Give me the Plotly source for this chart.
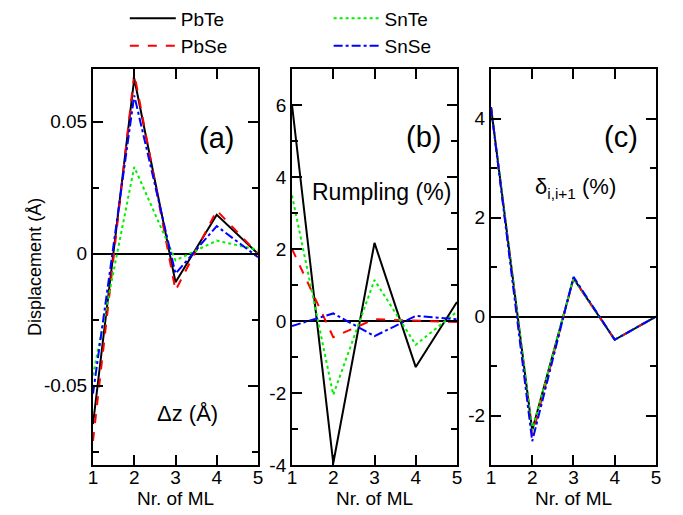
import plotly.graph_objects as go

layers = [1, 2, 3, 4, 5]
names = ["PbTe", "PbSe", "SnTe", "SnSe"]

# (a) displacement dz (Å)
dz_PbTe = [-0.0645, 0.0664, -0.0108, 0.0148, 0.0]
dz_PbSe = [-0.0709, 0.0683, -0.0139, 0.0164, 0.0]
dz_SnTe = [-0.0460, 0.0329, -0.0025, 0.0050, 0.0015]
dz_SnSe = [-0.0530, 0.0600, -0.0075, 0.0105, -0.0013]

# (b) rumpling (%)
rump_PbTe = [6.0, -3.95, 2.17, -1.28, 0.53]
rump_PbSe = [2.0, -0.45, 0.05, 0.02, -0.03]
rump_SnTe = [3.49, -2.05, 1.14, -0.66, 0.26]
rump_SnSe = [-0.14, 0.21, -0.42, 0.14, 0.05]

# (c) delta_{i,i+1} (%)
dl_PbTe = [4.23, -2.30, 0.77, -0.47, 0.0]
dl_PbSe = [4.23, -2.40, 0.77, -0.47, 0.0]
dl_SnTe = [4.23, -2.30, 0.77, -0.47, 0.0]
dl_SnSe = [4.23, -2.52, 0.80, -0.47, 0.0]

panels = [
    [dz_PbTe, dz_PbSe, dz_SnTe, dz_SnSe],
    [rump_PbTe, rump_PbSe, rump_SnTe, rump_SnSe],
    [dl_PbTe, dl_PbSe, dl_SnTe, dl_SnSe],
]

colors = ["black", "#ff0000", "#00f000", "#0000ff"]
dashes = ["solid", "dash", "dot", "dashdot"]
legends = ["legend", "legend", "legend2", "legend2"]

FONT = "Liberation Sans, Arial, Helvetica, sans-serif"

fig = go.Figure()
for p, series in enumerate(panels):
    xa = "x" if p == 0 else f"x{p+1}"
    ya = "y" if p == 0 else f"y{p+1}"
    for i, vals in enumerate(series):
        fig.add_trace(go.Scatter(
            x=layers, y=vals, mode="lines", name=names[i],
            line=dict(color=colors[i], dash=dashes[i], width=2),
            xaxis=xa, yaxis=ya, showlegend=(p == 0), legend=legends[i],
        ))

domains = [[0.0, 0.2931], [0.3535, 0.6465], [0.7069, 1.0]]
yranges = [[-0.08, 0.07], [-4, 7], [-3, 5]]
ytickvals = [[-0.05, 0, 0.05], [-4, -2, 0, 2, 4, 6], [-2, 0, 2, 4]]
yticktext = [["-0.05", "0", "0.05"], ["-4", "-2", "0", "2", "4", "6"], ["-2", "0", "2", "4"]]
yminor = [0.025, 1, 1]

axis_common = dict(
    showline=True, linecolor="black", linewidth=2, mirror="ticks",
    ticks="inside", ticklen=10, tickwidth=2, tickcolor="black",
    showgrid=False, tickfont=dict(family=FONT, size=19, color="black"),
    automargin=True,
)

# page body has an 8px margin, so the figure is shrunk by 8px on each axis
layout = dict(
    width=675, height=507,
    margin=dict(l=85, r=27, t=61, b=50, autoexpand=False),
    paper_bgcolor="white", plot_bgcolor="white",
    font=dict(family=FONT, size=18, color="black"),
)
for p in range(3):
    sx = "xaxis" if p == 0 else f"xaxis{p+1}"
    sy = "yaxis" if p == 0 else f"yaxis{p+1}"
    layout[sx] = dict(
        axis_common, domain=domains[p], range=[1, 5], tickvals=layers,
        anchor="y" if p == 0 else f"y{p+1}", ticklabelstandoff=-6,
        title=dict(text="Nr. of ML", font=dict(family=FONT, size=19), standoff=0),
        zeroline=False,
    )
    layout[sy] = dict(
        axis_common, range=yranges[p], tickvals=ytickvals[p], ticktext=yticktext[p],
        anchor="x" if p == 0 else f"x{p+1}",
        minor=dict(ticks="inside", ticklen=6, tickwidth=2, tickcolor="black", dtick=yminor[p], tick0=0),
        zeroline=True, zerolinecolor="black", zerolinewidth=1.5,
    )

legend_common = dict(xref="paper", yref="paper", xanchor="left", yanchor="top",
                     font=dict(family=FONT, size=19), bgcolor="rgba(0,0,0,0)",
                     tracegroupgap=0, itemwidth=46)
layout["legend"] = dict(legend_common, x=0.0565, y=1.176)
layout["legend2"] = dict(legend_common, x=0.4185, y=1.176)

fig.update_layout(**layout)

ann = [
    dict(text="Displacement (Å)", x=-0.1245, y=0.5, xref="paper", yref="paper",
         textangle=-90, font=dict(size=18)),
    dict(text="(a)", x=4.0, y=0.044, xref="x", yref="y", font=dict(size=29)),
    dict(text="Δz (Å)", x=3.3, y=-0.0606, xref="x", yref="y", font=dict(size=22)),
    dict(text="(b)", x=4.18, y=5.1, xref="x2", yref="y2", font=dict(size=29)),
    dict(text="Rumpling (%)", x=3.18, y=3.57, xref="x2", yref="y2", font=dict(size=23)),
    dict(text="(c)", x=4.15, y=3.62, xref="x3", yref="y3", font=dict(size=29)),
    dict(text="δ<sub>i,i+1</sub> (%)", x=3.04, y=2.59, xref="x3", yref="y3", font=dict(size=22)),
]
for a in ann:
    a["showarrow"] = False
    a["font"]["family"] = FONT
    a["font"]["color"] = "black"
    fig.add_annotation(**a)

fig.write_html("out.html")
